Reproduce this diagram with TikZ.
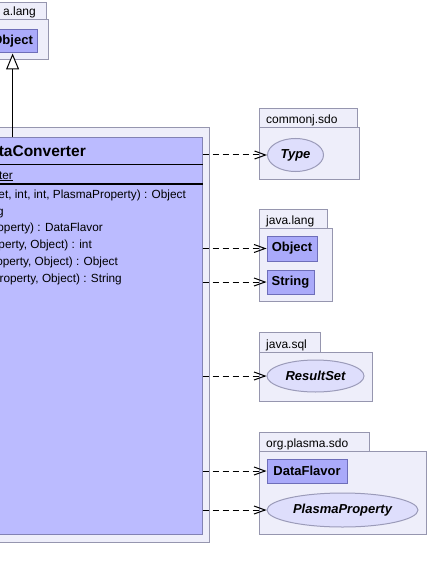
\documentclass[tikz,border=0pt]{standalone}
\usepackage{fontspec}
\setmainfont{Liberation Sans}
\usetikzlibrary{arrows.meta,shapes.geometric}

\definecolor{pkgfill}{RGB}{238,238,250}
\definecolor{pkgdraw}{RGB}{150,150,175}
\definecolor{clsfill}{RGB}{187,187,255}
\definecolor{clsdraw}{RGB}{130,130,180}
\definecolor{boxfill}{RGB}{170,170,250}
\definecolor{boxdraw}{RGB}{110,110,185}
\definecolor{ellfill}{RGB}{222,222,252}
\definecolor{elldraw}{RGB}{155,155,185}

\tikzset{
  pkgpart/.style={draw=pkgdraw, fill=pkgfill, line width=1pt},
  pkglabel/.style={anchor=base west, inner sep=0pt, font=\fontsize{12}{14}\selectfont},
  clsbox/.style={draw=clsdraw, fill=clsfill, line width=1pt, rectangle, inner sep=0pt},
  membertext/.style={anchor=base east, inner sep=0pt, font=\fontsize{11.8}{14}\selectfont},
  typebox/.style={draw=boxdraw, fill=boxfill, line width=1pt, rectangle, inner sep=0pt,
                  font=\fontsize{13}{15}\selectfont\bfseries},
  ifacebox/.style={draw=elldraw, fill=ellfill, line width=1pt, ellipse, inner sep=0pt,
                   font=\fontsize{13}{15}\selectfont\bfseries\itshape},
  dep/.style={draw=black, line width=1pt, dash pattern=on 6pt off 4pt,
              -{Straight Barb[length=11pt,width=8pt]}},
  gen/.style={draw=black, line width=1pt,
              -{Triangle[open, length=16pt, width=13pt, fill=white]}},
}

% package drawn as a tab plus a body:
% #1 left, #2 tab right, #3 body right, #4 tab top, #5 tab bottom, #6 body bottom
\newcommand{\umlpkg}[6]{%
  \draw[pkgpart] (#1,#4) rectangle (#2,#5);
  \draw[pkgpart] (#1,#5) rectangle (#3,#6);
}

\begin{document}
\begin{tikzpicture}[x=1pt,y=-1pt]
\useasboundingbox (0,0) rectangle (429,580);
\clip (0,0) rectangle (429,580);

% java.lang package holding the superclass
\umlpkg{-40}{46}{48}{3}{20}{60}
\node[pkglabel, anchor=base east] (toplang-label) at (36,16) {a.lang};
\node[typebox, minimum width=50, minimum height=23] (topobj) at (12.6,41.5) {Object};

% enclosing package and the converter class
\draw[pkgpart] (-60,128) rectangle (209,542);
\node[clsbox, minimum width=252, minimum height=396] (conv) at (76,336) {};
\draw[black, line width=1pt] (conv.west |- 0,164.5) -- (conv.east |- 0,164.5);
\draw[black, line width=2pt] (conv.west |- 0,183.5) -- (conv.east |- 0,183.5);

\node[anchor=base east, inner sep=0pt, font=\fontsize{15.5}{17}\selectfont\bfseries]
  (conv-name) at (86,157) {taConverter};
\node[membertext] (conv-attr) at (13,179) {\underline{ter}};
\node[membertext] (conv-op1) at (186,198) {et, int, int, PlasmaProperty) : Object};
\node[membertext] (conv-op2) at (4,215) {g};
\node[membertext] (conv-op3) at (103,231) {operty) : DataFlavor};
\node[membertext] (conv-op4) at (92,248) {perty, Object) : int};
\node[membertext] (conv-op5) at (118,265) {operty, Object) : Object};
\node[membertext] (conv-op6) at (122,282) {roperty, Object) : String};

% generalization to Object
\draw[gen] (topobj.south |- conv.north) -- (topobj.south);

% commonj.sdo
\umlpkg{259}{357}{359}{109}{128}{179}
\node[pkglabel] (sdo-label) at (266,124) {commonj.sdo};
\node[ifacebox, minimum width=56, minimum height=33] (typ) at (295.5,155) {Type};

% java.lang
\umlpkg{259}{327}{332}{209}{228}{301}
\node[pkglabel] (lang-label) at (266,224) {java.lang};
\node[typebox, minimum width=50, minimum height=25] (obj) at (292,248.5) {Object};
\node[typebox, minimum width=47, minimum height=24] (str) at (290.5,282) {String};

% java.sql
\umlpkg{259}{320}{372}{332}{352}{401}
\node[pkglabel] (sql-label) at (266,348) {java.sql};
\node[ifacebox, minimum width=97, minimum height=32] (rs) at (315.5,376) {ResultSet};

% org.plasma.sdo
\umlpkg{259}{369}{426}{432}{451}{534}
\node[pkglabel] (plasma-label) at (266,447) {org.plasma.sdo};
\node[typebox, minimum width=80, minimum height=24] (df) at (307,471) {DataFlavor};
\node[ifacebox, minimum width=151, minimum height=34] (pp) at (342.5,510) {PlasmaProperty};

% dependencies
\draw[dep] (typ.west -| conv.east) -- (typ.west);
\draw[dep] (obj.west -| conv.east) -- (obj.west);
\draw[dep] (str.west -| conv.east) -- (str.west);
\draw[dep] (rs.west -| conv.east) -- (rs.west);
\draw[dep] (df.west -| conv.east) -- (df.west);
\draw[dep] (pp.west -| conv.east) -- (pp.west);
\end{tikzpicture}
\end{document}
